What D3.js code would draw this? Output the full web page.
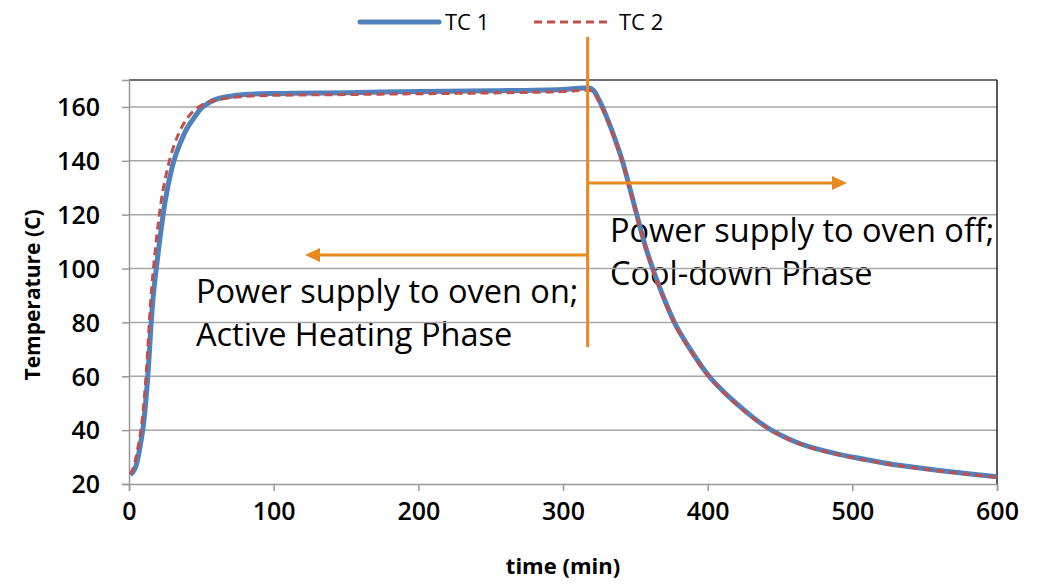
<!DOCTYPE html>
<html>
<head>
<meta charset="utf-8">
<script src="https://cdn.jsdelivr.net/npm/d3@7"></script>
<style>
  html, body { margin: 0; padding: 0; background: #fff; }
  svg { display: block; }
</style>
</head>
<body>
<svg id="chart" width="1037" height="585"></svg>
<script>
// Oven thermocouple temperatures over time
const timeTC1 = [1, 5, 8, 10, 13, 16, 20, 25, 30, 35, 40, 45, 50, 55, 60, 70, 80, 100, 150, 200, 250, 300, 315, 318, 321, 325, 330, 335, 341, 346, 351, 356, 362, 369, 377, 388, 401, 410, 420, 430, 444, 450, 460, 470, 480, 490, 500, 520, 540, 560, 580, 600];
const tempTC1 = [23.5, 27, 35, 42, 60, 85, 105, 125, 138, 146, 152, 156, 159.5, 161.5, 162.8, 164, 164.6, 165, 165.3, 165.7, 166, 166.5, 167, 167, 166.2, 162.5, 156.5, 149.5, 140, 130.2, 120, 110, 100, 90, 80, 70, 60, 54.8, 49.8, 45.3, 40, 38.3, 35.8, 33.9, 32.4, 31.1, 30, 28, 26.4, 25, 23.8, 22.7];

const timeTC2 = [1, 4, 7, 9, 12, 15, 18, 22, 27, 32, 37, 42, 47, 52, 60, 70, 80, 100, 150, 200, 250, 300, 315, 318, 321, 325, 330, 335, 341, 346, 351, 356, 362, 369, 377, 388, 401, 410, 420, 430, 444, 450, 460, 470, 480, 490, 500, 520, 540, 560, 580, 600];
const tempTC2 = [23.5, 28, 36, 43, 62, 88, 106, 124, 138, 147, 153, 157, 159.5, 161.2, 162.5, 163.4, 163.9, 164.3, 164.6, 164.9, 165.2, 165.7, 166.2, 166.2, 165.4, 161.8, 155.9, 149, 139.5, 129.8, 119.6, 109.6, 99.6, 89.6, 79.6, 69.6, 59.7, 54.5, 49.5, 45, 39.8, 38.1, 35.6, 33.7, 32.2, 30.9, 29.8, 27.8, 26.2, 24.8, 23.6, 22.5];

const xTicks = [0, 100, 200, 300, 400, 500, 600];
const yTicks = [20, 40, 60, 80, 100, 120, 140, 160];
const seriesNames = ["TC 1", "TC 2"];

// Phase boundary (power switched off) and the two phase notes
const switchOffTime = 317;
const heatingNote = ["Power supply to oven on;", "Active Heating Phase"];
const coolingNote = ["Power supply to oven off;", "Cool-down Phase"];

const svg = d3.select("#chart");
const plot = { left: 129, right: 997, top: 80, bottom: 484 };

const x = d3.scaleLinear().domain([0, 600]).range([plot.left, plot.right]);
const y = d3.scaleLinear().domain([20, 170]).range([plot.bottom, plot.top]);

const orange = "#E8891C";
const textFont = "'Open Sans', 'Liberation Sans', sans-serif";

// Phase notes sit underneath the gridlines and curves
const notes = svg.append("g").attr("font-family", textFont).attr("font-size", 32.5).attr("fill", "#000");
notes.append("text").attr("x", 196).attr("y", 303).text(heatingNote[0]);
notes.append("text").attr("x", 196).attr("y", 346).text(heatingNote[1]);
notes.append("text").attr("x", 610).attr("y", 242).text(coolingNote[0]);
notes.append("text").attr("x", 610).attr("y", 285).text(coolingNote[1]);

// Horizontal gridlines
svg.append("g")
  .selectAll("line")
  .data(yTicks.filter(d => d > 20))
  .join("line")
  .attr("x1", plot.left).attr("x2", plot.right)
  .attr("y1", d => y(d)).attr("y2", d => y(d))
  .attr("stroke", "#A6A6A6").attr("stroke-width", 1.5);

// Frame: dark on top and right
svg.append("line").attr("x1", plot.left).attr("x2", plot.right).attr("y1", plot.top).attr("y2", plot.top)
  .attr("stroke", "#404040").attr("stroke-width", 1.5);
svg.append("line").attr("x1", plot.right).attr("x2", plot.right).attr("y1", plot.top).attr("y2", plot.bottom)
  .attr("stroke", "#202020").attr("stroke-width", 1.5);

// Axes
const xAxis = svg.append("g")
  .attr("transform", `translate(0,${plot.bottom})`)
  .call(d3.axisBottom(x).tickValues(xTicks).tickSize(7).tickPadding(10).tickFormat(d3.format("d")));
const yAxis = svg.append("g")
  .attr("transform", `translate(${plot.left},0)`)
  .call(d3.axisLeft(y).tickValues(yTicks).tickSize(7).tickPadding(22).tickFormat(d3.format("d")));

[xAxis, yAxis].forEach(a => {
  a.select(".domain").attr("stroke", "#999").attr("stroke-width", 1.5);
  a.selectAll(".tick line").attr("stroke", "#999").attr("stroke-width", 1.5);
  a.selectAll(".tick text")
    .attr("font-family", textFont)
    .attr("font-size", 25)
    .attr("font-weight", 600)
    .attr("fill", "#000");
});
yAxis.selectAll(".tick text").attr("dy", "0.35em");
xAxis.selectAll(".tick text").attr("dy", "0.75em");

// Axis titles
svg.append("text")
  .attr("x", (plot.left + plot.right) / 2).attr("y", 574)
  .attr("text-anchor", "middle")
  .attr("font-family", textFont).attr("font-size", 22).attr("font-weight", "bold")
  .text("time (min)");
svg.append("text")
  .attr("transform", "translate(40,295) rotate(-90)")
  .attr("text-anchor", "middle")
  .attr("font-family", textFont).attr("font-size", 21).attr("font-weight", "bold")
  .text("Temperature (C)");

// Temperature curves
const line = d3.line().x(d => x(d[0])).y(d => y(d[1])).curve(d3.curveMonotoneX);
const tc1 = timeTC1.map((t, i) => [t, tempTC1[i]]);
const tc2 = timeTC2.map((t, i) => [t, tempTC2[i]]);

svg.append("path").datum(tc1).attr("d", line)
  .attr("fill", "none").attr("stroke", "#4F81BD").attr("stroke-width", 5).attr("stroke-linejoin", "round");
svg.append("path").datum(tc2).attr("d", line)
  .attr("fill", "none").attr("stroke", "#C0504D").attr("stroke-width", 3).attr("stroke-dasharray", "8,5");

// Switch-off marker and phase arrows
const xOff = x(switchOffTime);
svg.append("line").attr("x1", xOff).attr("x2", xOff).attr("y1", 37).attr("y2", 347)
  .attr("stroke", orange).attr("stroke-width", 3);

function arrow(x1, x2, yy) {
  const dir = Math.sign(x2 - x1);
  const head = 15, half = 7;
  svg.append("line").attr("x1", x1).attr("x2", x2 - dir * head).attr("y1", yy).attr("y2", yy)
    .attr("stroke", orange).attr("stroke-width", 3);
  svg.append("path")
    .attr("d", `M${x2},${yy} L${x2 - dir * head},${yy - half} L${x2 - dir * head},${yy + half} Z`)
    .attr("fill", orange);
}
arrow(xOff, 847, 183);
arrow(xOff, 305, 255);

// Legend
const legend = svg.append("g").attr("font-family", textFont).attr("font-size", 22);
legend.append("line").attr("x1", 360).attr("x2", 439).attr("y1", 22).attr("y2", 22)
  .attr("stroke", "#4F81BD").attr("stroke-width", 5).attr("stroke-linecap", "round");
legend.append("text").attr("x", 445).attr("y", 30).text(seriesNames[0]);
legend.append("line").attr("x1", 534).attr("x2", 610).attr("y1", 22).attr("y2", 22)
  .attr("stroke", "#C0504D").attr("stroke-width", 3).attr("stroke-dasharray", "8,5");
legend.append("text").attr("x", 619).attr("y", 30).text(seriesNames[1]);
</script>
</body>
</html>
